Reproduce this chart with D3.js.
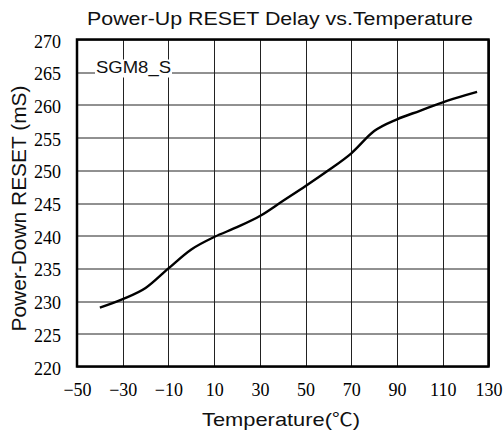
<!DOCTYPE html>
<html>
<head>
<meta charset="utf-8">
<script src="https://cdn.jsdelivr.net/npm/d3@7"></script>
<style>
  body { margin: 0; background: #fff; }
  svg { display: block; }
  .tick-label { font-family: "Liberation Serif", "Times New Roman", serif; font-size: 18px; fill: #000; }
  .sans { font-family: "Liberation Sans", Arial, sans-serif; fill: #111; }
</style>
</head>
<body>
<svg id="chart"></svg>
<script>
// curve readings (temperature in C, delay in mS)
const temps  = [-40, -30, -20, -10, 0, 10, 20, 30, 40, 50, 60, 70, 80, 90, 100, 110, 120, 125];
const delays = [229.0, 230.3, 232.0, 235.0, 237.9, 239.8, 241.3, 243.0, 245.3, 247.6, 250.0, 252.6, 256.0, 257.8, 259.1, 260.4, 261.5, 262.0];

const xTicks = [-50, -30, -10, 10, 30, 50, 70, 90, 110, 130];
const yTicks = [220, 225, 230, 235, 240, 245, 250, 255, 260, 265, 270];

const W = 504, H = 436;
const margin = { top: 39.5, right: 15.5, bottom: 69.5, left: 77 };
const width = W - margin.left - margin.right;
const height = H - margin.top - margin.bottom;

const svg = d3.select("#chart").attr("width", W).attr("height", H);
const g = svg.append("g").attr("transform", `translate(${margin.left},${margin.top})`);

const x = d3.scaleLinear().domain([-50, 130]).range([0, width]);
const y = d3.scaleLinear().domain([220, 270]).range([height, 0]);

// grid
g.append("g").selectAll("line").data(xTicks).join("line")
  .attr("x1", d => Math.round(x(d)) + 0.5).attr("x2", d => Math.round(x(d)) + 0.5)
  .attr("y1", 0).attr("y2", height)
  .attr("stroke", "#222").attr("stroke-width", 1);
g.append("g").selectAll("line").data(yTicks).join("line")
  .attr("y1", d => Math.round(y(d)) + 0.5).attr("y2", d => Math.round(y(d)) + 0.5)
  .attr("x1", 0).attr("x2", width)
  .attr("stroke", "#222").attr("stroke-width", 1);

// axes (labels only, no domain or ticks)
const xAxis = g.append("g").attr("transform", `translate(0,${height})`)
  .call(d3.axisBottom(x).tickValues(xTicks).tickSize(0).tickPadding(17));
const yAxis = g.append("g")
  .call(d3.axisLeft(y).tickValues(yTicks).tickSize(0).tickPadding(16));
[xAxis, yAxis].forEach(a => {
  a.select(".domain").remove();
  a.selectAll("text").attr("class", "tick-label").attr("font-family", null).attr("font-size", null);
});
yAxis.selectAll("text").attr("dy", "0.42em");

// the curve
const line = d3.line()
  .x((d, i) => x(temps[i]))
  .y(d => y(d))
  .curve(d3.curveMonotoneX);
g.append("path")
  .datum(delays)
  .attr("fill", "none")
  .attr("stroke", "#000")
  .attr("stroke-width", 2.4)
  .attr("d", line);

// frame
g.append("rect")
  .attr("x", 0).attr("y", 0).attr("width", width).attr("height", height)
  .attr("fill", "none").attr("stroke", "#000").attr("stroke-width", 2.5);

// series label with white backing
g.append("rect")
  .attr("x", 18).attr("y", 20).attr("width", 77).attr("height", 18)
  .attr("fill", "#fff");
g.append("text").attr("class", "sans")
  .attr("x", 19).attr("y", 33.5)
  .attr("font-size", 16.5)
  .attr("textLength", 75).attr("lengthAdjust", "spacingAndGlyphs")
  .text("SGM8_S");

// titles
svg.append("text").attr("class", "sans")
  .attr("x", 87).attr("y", 25)
  .attr("font-size", 18)
  .attr("textLength", 386).attr("lengthAdjust", "spacingAndGlyphs")
  .text("Power-Up RESET Delay vs.Temperature");

const xt = svg.append("text").attr("class", "sans")
  .attr("x", 202).attr("y", 426)
  .attr("font-size", 19)
  .attr("textLength", 158).attr("lengthAdjust", "spacingAndGlyphs");
xt.append("tspan").text("Temperature(");
xt.append("tspan").attr("font-family", "'Noto Sans CJK SC', sans-serif").attr("font-size", 18).text("℃");
xt.append("tspan").text(")");

svg.append("text").attr("class", "sans")
  .attr("transform", "translate(26,331.5) rotate(-90)")
  .attr("font-size", 19.5)
  .attr("textLength", 246).attr("lengthAdjust", "spacingAndGlyphs")
  .text("Power-Down RESET (mS)");
</script>
</body>
</html>
